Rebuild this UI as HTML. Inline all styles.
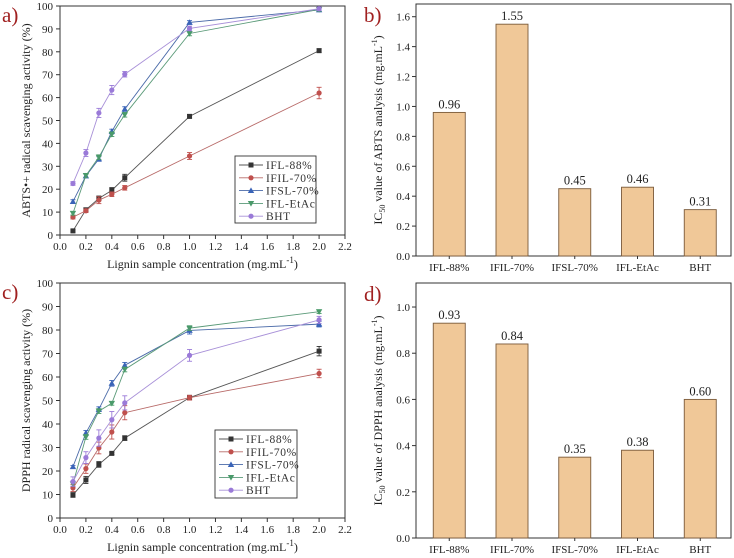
<!DOCTYPE html>
<html><head><meta charset="utf-8"><style>
html,body{margin:0;padding:0;background:#fff;}
svg{display:block;font-family:"Liberation Serif",serif;}
</style></head><body>
<svg id="fig" width="734" height="558" viewBox="0 0 734 558" xmlns="http://www.w3.org/2000/svg"></svg>
<script>
const xConc = [0.1,0.2,0.3,0.4,0.5,1.0,2.0];
const seriesNames = ["IFL-88%","IFIL-70%","IFSL-70%","IFL-EtAc","BHT"];
const abtsIFL88 = [1.8,11,16,19.5,25,51.8,80.5];
const abtsIFIL70 = [7.8,10.6,15.2,17.8,20.6,34.5,62];
const abtsIFSL70 = [14.6,25.8,33.2,45.2,55,92.8,98.3];
const abtsEtAc = [9.5,26,34,44,52.5,88,98.5];
const abtsBHT = [22.5,35.8,53.3,63.3,70.2,90.2,98.8];
const abtsErr = [[0.5,0.8,1,1.2,1.5,0.8,0.8],[0.8,0.8,1.5,1,1,1.5,2.5],[0.8,0.8,1,1,1,0.8,0.8],[0.8,0.8,1,1,1,1,0.8],[0.8,1.5,2,2,1.2,1,0.8]];
const dpphIFL88 = [9.8,16.2,22.8,27.5,34,51.2,71];
const dpphIFIL70 = [12.8,21,29.8,36.6,44.8,51.2,61.5];
const dpphIFSL70 = [21.8,36.2,46.3,57.3,65,79.8,82.5];
const dpphEtAc = [14.5,34.5,45.5,48.8,63.2,80.8,87.8];
const dpphBHT = [15.5,25.7,34,41.8,49,69.2,84.3];
const dpphErr = [[1,1.5,1.2,0.5,1,1,2],[1.5,2,2.5,3,3,1,1.8],[0.5,1,1,1.2,1.2,1.5,1.2],[1,1,1,0.8,1,1,0.8],[2,2.5,3.5,3.5,3,2.5,1.5]];
const barCats = ["IFL-88%","IFIL-70%","IFSL-70%","IFL-EtAc","BHT"];
const ic50ABTS = [0.96,1.55,0.45,0.46,0.31];
const ic50DPPH = [0.93,0.84,0.35,0.38,0.60];
const xTicks = [0,0.2,0.4,0.6,0.8,1.0,1.2,1.4,1.6,1.8,2.0,2.2];
const yTicksPct = [0,10,20,30,40,50,60,70,80,90,100];
const yTicksB = [0,0.2,0.4,0.6,0.8,1.0,1.2,1.4,1.6];
const yTicksD = [0,0.2,0.4,0.6,0.8,1.0];

const NS="http://www.w3.org/2000/svg";
const svg=document.getElementById('fig');
function mk(tag,attrs,parent,text){const e=document.createElementNS(NS,tag);for(const k in attrs)e.setAttribute(k,attrs[k]);if(text!==undefined)e.textContent=text;(parent||svg).appendChild(e);return e;}
const colors=["#333333","#c0504d","#3a64b8","#4a9a6a","#9a7ad8"];
const lineCols=["#555555","#b86a68","#4a6aa8","#5a9a78","#a890d8"];

function marker(g,kind,x,y,c){
  if(kind===0){const m=mk('rect',{x:x-2.5,y:y-2.5,width:5,height:5,fill:c},g);return m;}
  if(kind===1||kind===4){return mk('circle',{cx:x,cy:y,r:2.6,fill:c},g);}
  if(kind===2){return mk('polygon',{points:`${x},${y-3.2} ${x+3.2},${y+2.4} ${x-3.2},${y+2.4}`,fill:c},g);}
  return mk('polygon',{points:`${x},${y+3.2} ${x+3.2},${y-2.4} ${x-3.2},${y-2.4}`,fill:c},g);
}

function linePanel(id,box,data,errs,ylabel,legendBox,panelLabel){
  const g=mk('g',{},svg);
  
  
  const [L,T,R,B]=box;
  const sx=v=>L+(v/2.2)*(R-L);
  const sy=v=>B-(v/100)*(B-T);
  const frame=mk('rect',{x:L,y:T,width:R-L,height:B-T,fill:'none',stroke:'#333','stroke-width':1},g);
  
  
  xTicks.forEach(v=>{const x=sx(v);mk('line',{x1:x,y1:B,x2:x,y2:B+4,stroke:'#333'},g);
    const t=mk('text',{x:x,y:B+15,'font-size':11,'text-anchor':'middle',fill:'#222'},g,v.toFixed(1));
    });
  yTicksPct.forEach(v=>{const y=sy(v);mk('line',{x1:L-4,y1:y,x2:L,y2:y,stroke:'#333'},g);
    const t=mk('text',{x:L-7,y:y+4,'font-size':11,'text-anchor':'end',fill:'#222'},g,String(v));
    });
  const xl=mk('text',{x:(L+R)/2,y:B+33,'font-size':12,'text-anchor':'middle',fill:'#222'},g);
  xl.innerHTML='Lignin sample concentration (mg.mL<tspan dy="-5" font-size="9">-1</tspan><tspan dy="5">)</tspan>';
  
  const yl=mk('text',{x:0,y:0,'font-size':12,'text-anchor':'middle',fill:'#222',transform:`translate(${L-30},${(T+B)/2}) rotate(-90)`},g,ylabel);
  
  const pl=mk('text',{x:2,y:T+16,'font-size':21,fill:'#a02020'},g,panelLabel);
  
  data.forEach((s,i)=>{
    const sg=mk('g',{},g);
    
    
    const pts=s.map((v,j)=>sx(xConc[j])+','+sy(v)).join(' ');
    mk('polyline',{points:pts,fill:'none',stroke:lineCols[i],'stroke-width':0.9},sg);
    s.forEach((v,j)=>{const x=sx(xConc[j]);const e=errs[i][j];
      mk('line',{x1:x,y1:sy(v-e),x2:x,y2:sy(v+e),stroke:colors[i],'stroke-width':0.9},sg);
      mk('line',{x1:x-2.5,y1:sy(v-e),x2:x+2.5,y2:sy(v-e),stroke:colors[i],'stroke-width':0.9},sg);
      mk('line',{x1:x-2.5,y1:sy(v+e),x2:x+2.5,y2:sy(v+e),stroke:colors[i],'stroke-width':0.9},sg);
      const m=marker(sg,i,x,sy(v),colors[i]);
      });
  });
  const [lx,ly,lw,lh]=legendBox;
  const lg=mk('g',{},g);
  
  
  mk('rect',{x:lx,y:ly,width:lw,height:lh,fill:'#fff',stroke:'#333','stroke-width':0.9},lg);
  seriesNames.forEach((n,i)=>{const y=ly+9+i*12.8;
    const eg=mk('g',{},lg);
    
    mk('line',{x1:lx+4,y1:y,x2:lx+28,y2:y,stroke:lineCols[i],'stroke-width':0.9},eg);
    marker(eg,i,lx+16,y,colors[i]);
    mk('text',{x:lx+31,y:y+4,'font-size':11.5,fill:'#333','letter-spacing':'0.6'},eg,n);});
}

function barPanel(id,box,ymax,vals,ticks,ylabelMid,panelLabel){
  const g=mk('g',{},svg);
  
  
  const [L,T,R,B]=box;
  const sy=v=>B-(v/ymax)*(B-T);
  const step=(R-L)/5.02;
  const cx=i=>L+step*(0.53+i);
  const frame=mk('rect',{x:L,y:T,width:R-L,height:B-T,fill:'none',stroke:'#333','stroke-width':1},g);
  
  ticks.forEach(v=>{const y=sy(v);mk('line',{x1:L-4,y1:y,x2:L,y2:y,stroke:'#333'},g);
    const t=mk('text',{x:L-6,y:y+4,'font-size':11,'text-anchor':'end',fill:'#222'},g,v.toFixed(1));
    });
  vals.forEach((v,i)=>{const x=cx(i);
    const r=mk('rect',{x:x-16,y:sy(v),width:32,height:B-sy(v),fill:'#f0c898',stroke:'#7a5a3a','stroke-width':0.9},g);
    
    const t=mk('text',{x:x,y:sy(v)-4,'font-size':12.5,'text-anchor':'middle',fill:'#222'},g,v.toFixed(2));
    
    mk('line',{x1:x,y1:B,x2:x,y2:B+3,stroke:'#333'},g);
    const c=mk('text',{x:x,y:B+15,'font-size':11,'text-anchor':'middle',fill:'#222'},g,barCats[i]);
    });
  const yl=mk('text',{x:0,y:0,'font-size':12,'text-anchor':'middle',fill:'#222',transform:`translate(${L-34},${(T+B)/2}) rotate(-90)`},g);
  yl.innerHTML='IC<tspan dy="3" font-size="8">50</tspan><tspan dy="-3"> '+ylabelMid+' (mg.mL</tspan><tspan dy="-5" font-size="8">-1</tspan><tspan dy="5">)</tspan>';
  
  const pl=mk('text',{x:L-52,y:T+18,'font-size':21,fill:'#a02020'},g,panelLabel);
  
}

linePanel('chart-a-abts',[60,6,345,235],[abtsIFL88,abtsIFIL70,abtsIFSL70,abtsEtAc,abtsBHT],abtsErr,'ABTS\u2022+ radical scavenging activity (%)',[235,156,81,67],'a)');
linePanel('chart-c-dpph',[60,283,345,518],[dpphIFL88,dpphIFIL70,dpphIFSL70,dpphEtAc,dpphBHT],dpphErr,'DPPH radical scavenging activity (%)',[215,430,82,68],'c)');
barPanel('chart-b-ic50-abts',[416,4,731,256],1.685,ic50ABTS,yTicksB,'value of ABTS analysis','b)');
barPanel('chart-d-ic50-dpph',[416,283,731,538],1.104,ic50DPPH,yTicksD,'value of DPPH analysis','d)');
</script>
</body></html>
